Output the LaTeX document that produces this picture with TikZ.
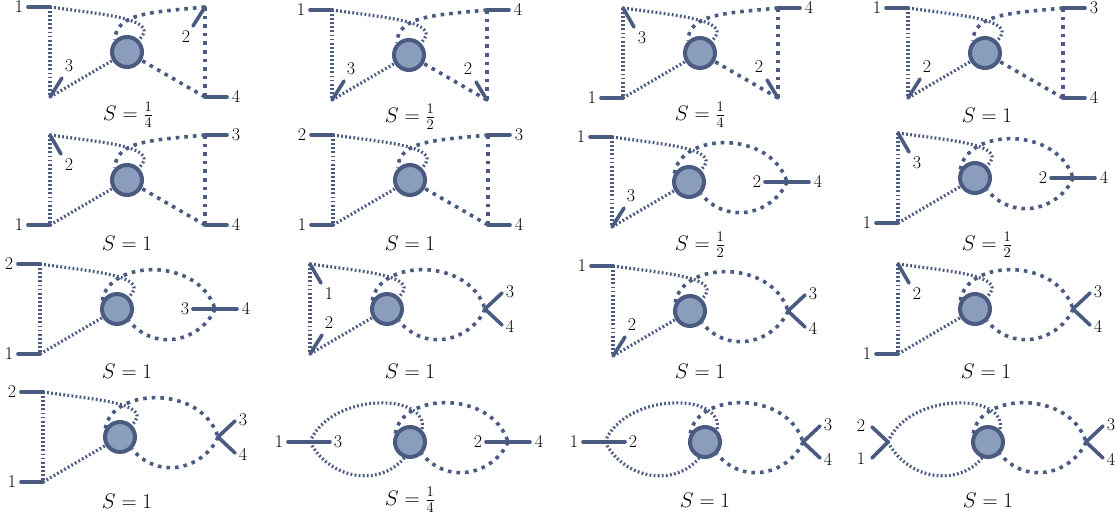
\RequirePackage{fix-cm}
\documentclass[tikz,border=0pt]{standalone}
\usepackage{amsmath,amssymb}
\usepackage{tikz}
\definecolor{inkblue}{HTML}{4A5A80}
\definecolor{blobblue}{HTML}{8A9DBD}
\tikzset{
  fineline/.style={draw=inkblue,line width=3.2pt,dash pattern=on 1.8pt off 2.3pt},
  coarseline/.style={draw=inkblue,line width=3.6pt,dash pattern=on 3.6pt off 5pt},
  legline/.style={draw=inkblue,line width=3.6pt,line cap=round},
  blob/.style={circle,draw=inkblue,fill=blobblue,line width=4pt,minimum size=30pt,inner sep=0pt},
  num/.style={inner sep=0pt,font=\fontsize{18}{21}\selectfont},
  symfac/.style={inner sep=0pt,font=\fontsize{21}{25}\selectfont}
}
% the blob with its own loop, left side box
\newcommand{\fineleft}{
  \node[blob] (blob) at (0,0) {};
  \coordinate (tl) at (-77,-45);
  \coordinate (bl) at (-77,45);
  \draw[fineline] (tl) .. controls (-10,-36) and (32,-32) .. (blob.45);
  \draw[fineline] (tl) -- (bl);
  \draw[fineline] (bl) -- (blob);
}
% right side, two vertices
\newcommand{\coarsebox}{
  \coordinate (tr) at (78,-45);
  \coordinate (br) at (78,45);
  \draw[coarseline] (tr) .. controls (30,-40) and (-12,-40) .. (blob.135);
  \draw[coarseline] (tr) -- (br);
  \draw[coarseline] (br) -- (blob);
}
% right side, one vertex
\newcommand{\coarseloop}{
  \coordinate (r) at (98,0);
  \draw[coarseline] (blob.150) .. controls (-8,-50) and (82,-52) .. (r);
  \draw[coarseline] (r) .. controls (85,30) and (40,45) .. (blob.-45);
}
% left side, one vertex
\newcommand{\fineloop}{
  \node[blob] (blob) at (0,0) {};
  \coordinate (l) at (-100,0);
  \draw[fineline] (l) .. controls (-80,-50) and (20,-50) .. (blob.45);
  \draw[fineline] (l) .. controls (-80,38) and (-30,45) .. (blob.-110);
}
\newcommand{\leg}[4]{
  \path (#1) ++(#2) coordinate (e#4);
  \path (#1) ++(#3) node[num] (n#4) {$#4$};
  \draw[legline] (#1) -- (e#4);
}
\newcommand{\legW}[2]{\leg{#1}{-22,0}{-31,0}{#2}}
\newcommand{\legE}[2]{\leg{#1}{22,0}{31,0}{#2}}
\newcommand{\legNE}[2]{\leg{#1}{12,-19}{19,-31}{#2}}
\newcommand{\legSE}[2]{\leg{#1}{11,19}{19,30}{#2}}
\newcommand{\legSW}[2]{\leg{#1}{-12,19}{-19,30}{#2}}
\newcommand{\legNW}[2]{\leg{#1}{-11,-18}{-19,-31}{#2}}
\newcommand{\legIn}[2]{\leg{#1}{-22,0}{-30,0}{#2}}
\newcommand{\legOut}[2]{\leg{#1}{20,0}{28,0}{#2}}
\newcommand{\legVu}[2]{\leg{#1}{17,-16}{25,-17}{#2}}
\newcommand{\legVd}[2]{\leg{#1}{17,16}{25,18}{#2}}
\newcommand{\legWu}[2]{\leg{#1}{-16,-15}{-27,-16}{#2}}
\newcommand{\legWd}[2]{\leg{#1}{-16,16}{-27,17}{#2}}
\newcommand{\sym}[2]{\node[symfac] (sym) at (#1) {$S=#2$};}
\begin{document}
\begin{tikzpicture}[x=1pt,y=-1pt]
\useasboundingbox (0,0) rectangle (1119,519);
% first row
\begin{scope}[shift={(127,52)},name prefix=a-]
\fineleft \coarsebox
\legW{tl}{1} \legNE{bl}{3} \legSW{tr}{2} \legE{br}{4}
\sym{1,63}{\frac{1}{4}}
\end{scope}
\begin{scope}[shift={(409,55)},name prefix=b-]
\fineleft \coarsebox
\legW{tl}{1} \legNE{bl}{3} \legNW{br}{2} \legE{tr}{4}
\sym{1,62}{\frac{1}{2}}
\end{scope}
\begin{scope}[shift={(700,53)},name prefix=c-]
\fineleft \coarsebox
\legSE{tl}{3} \legW{bl}{1} \legNW{br}{2} \legE{tr}{4}
\sym{0,62}{\frac{1}{4}}
\end{scope}
\begin{scope}[shift={(985,53)},name prefix=d-]
\fineleft \coarsebox
\legW{tl}{1} \legNE{bl}{2} \legE{tr}{3} \legE{br}{4}
\sym{2,62}{1}
\end{scope}
% second row
\begin{scope}[shift={(127,180)},name prefix=e-]
\fineleft \coarsebox
\legSE{tl}{2} \legW{bl}{1} \legE{tr}{3} \legE{br}{4}
\sym{0,63}{1}
\end{scope}
\begin{scope}[shift={(410,180)},name prefix=f-]
\fineleft \coarsebox
\legW{tl}{2} \legW{bl}{1} \legE{tr}{3} \legE{br}{4}
\sym{0,63}{1}
\end{scope}
\begin{scope}[shift={(689,182)},name prefix=g-]
\fineleft \coarseloop
\legW{tl}{1} \legNE{bl}{3} \legIn{r}{2} \legE{r}{4}
\sym{11,63}{\frac{1}{2}}
\end{scope}
\begin{scope}[shift={(975,178)},name prefix=h-]
\fineleft \coarseloop
\legSE{tl}{3} \legW{bl}{1} \legIn{r}{2} \legE{r}{4}
\sym{12,67}{\frac{1}{2}}
\end{scope}
% third row
\begin{scope}[shift={(117,309)},name prefix=i-]
\fineleft \coarseloop
\legW{tl}{2} \legW{bl}{1} \legIn{r}{3} \legE{r}{4}
\sym{10,62}{1}
\end{scope}
\begin{scope}[shift={(387,309)},name prefix=j-]
\fineleft \coarseloop
\legSE{tl}{1} \legNE{bl}{2} \legVu{r}{3} \legVd{r}{4}
\sym{23,62}{1}
\end{scope}
\begin{scope}[shift={(690,311)},name prefix=k-]
\fineleft \coarseloop
\legW{tl}{1} \legNE{bl}{2} \legVu{r}{3} \legVd{r}{4}
\sym{10,60}{1}
\end{scope}
\begin{scope}[shift={(975,309)},name prefix=m-]
\fineleft \coarseloop
\legSE{tl}{2} \legW{bl}{1} \legVu{r}{3} \legVd{r}{4}
\sym{11,62}{1}
\end{scope}
% last row
\begin{scope}[shift={(120,437)},name prefix=n-]
\fineleft \coarseloop
\legW{tl}{2} \legW{bl}{1} \legVu{r}{3} \legVd{r}{4}
\sym{7,64}{1}
\end{scope}
\begin{scope}[shift={(410,442)},name prefix=p-]
\fineloop \coarseloop
\legW{l}{1} \legOut{l}{3} \legIn{r}{2} \legE{r}{4}
\sym{0,58}{\frac{1}{4}}
\end{scope}
\begin{scope}[shift={(705,442)},name prefix=q-]
\fineloop \coarseloop
\legW{l}{1} \legOut{l}{2} \legVu{r}{3} \legVd{r}{4}
\sym{0,58}{1}
\end{scope}
\begin{scope}[shift={(988,442)},name prefix=s-]
\fineloop \coarseloop
\legWu{l}{2} \legWd{l}{1} \legVu{r}{3} \legVd{r}{4}
\sym{0,58}{1}
\end{scope}
\end{tikzpicture}
\end{document}
